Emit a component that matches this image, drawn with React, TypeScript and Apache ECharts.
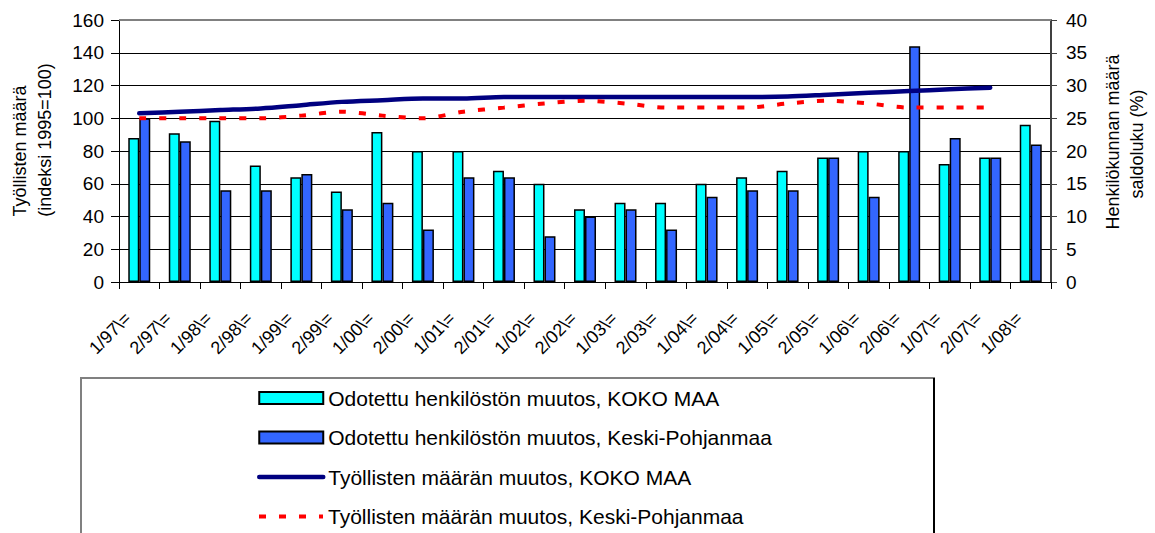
import React, { useEffect, useRef } from "react";
import * as echarts from "echarts";

const categories = [
  "1/97\\=", "2/97\\=", "1/98\\=", "2/98\\=", "1/99\\=", "2/99\\=", "1/00\\=", "2/00\\=",
  "1/01\\=", "2/01\\=", "1/02\\=", "2/02\\=", "1/03\\=", "2/03\\=", "1/04\\=", "2/04\\=",
  "1/05\\=", "2/05\\=", "1/06\\=", "2/06\\=", "1/07\\=", "2/07\\=", "1/08\\=",
];

// Saldoluku (%) – right axis
const henkilostoKokoMaa = [22, 22.7, 24.6, 17.8, 16, 13.8, 22.9, 20, 20, 17, 15, 11.1, 12.1, 12.1, 15, 16, 17, 19, 20, 20, 18, 19, 24];
const henkilostoKeskiPohjanmaa = [25, 21.5, 14, 14, 16.5, 11.1, 12.1, 8, 16, 16, 7, 10, 11.1, 8, 13, 14, 14, 19, 13, 36, 22, 19, 21];

// Index 1995=100 – left axis
const tyollisetKokoMaa = [103, 104, 105, 106, 108, 110, 111, 112, 112, 113, 113, 113, 113, 113, 113, 113, 113.3, 114.4, 115.5, 116.6, 117.7, 118.7, null];
const tyollisetKeskiPohjanmaa = [100, 100, 100, 100, 101.6, 104, 101.6, 100, 104, 106.5, 109, 110.7, 109, 106.5, 106.5, 106.5, 109, 110.7, 109, 106.5, 106.5, 106.5, null];

const leftTicks = [0, 160, 20];
const rightTicks = [0, 40, 5];

const seriesNames = [
  "Odotettu henkilöstön muutos, KOKO MAA",
  "Odotettu henkilöstön muutos, Keski-Pohjanmaa",
  "Työllisten määrän muutos, KOKO MAA",
  "Työllisten määrän muutos, Keski-Pohjanmaa",
];

const FONT = "Liberation Sans, Arial, sans-serif";

export default function App() {
  const ref = useRef<HTMLDivElement>(null);
  useEffect(() => {
    if (!ref.current) return;
    const chart = echarts.init(ref.current, null, { renderer: "svg" });
    const gridLeft = 119, gridRight = 1051, gridTop = 20, gridBottom = 282;
    const legendCommon = {
      orient: "vertical",
      left: 252,
      itemWidth: 64,
      itemHeight: 12,
      itemGap: 18.5,
      textStyle: { fontSize: 21, color: "#000", fontFamily: FONT },
    };
    chart.setOption({
      animation: false,
      backgroundColor: "#ffffff",
      textStyle: { fontFamily: FONT },
      grid: {
        left: gridLeft,
        right: 1155 - gridRight,
        top: gridTop,
        bottom: 533 - gridBottom,
        outerBoundsMode: "none",
        containLabel: false,
      },
      xAxis: {
        type: "category",
        data: categories,
        boundaryGap: true,
        axisLine: { lineStyle: { color: "#000", width: 1 } },
        axisTick: { show: true, length: 7, lineStyle: { color: "#000" } },
        axisLabel: {
          rotate: 45,
          interval: 0,
          margin: 22,
          padding: [0, 16, 0, 0],
          fontSize: 18,
          color: "#000",
          fontFamily: FONT,
        },
      },
      yAxis: [
        {
          type: "value",
          min: leftTicks[0],
          max: leftTicks[1],
          interval: leftTicks[2],
          axisLine: { show: true, lineStyle: { color: "#000", width: 1 } },
          axisTick: { show: true, length: 8, lineStyle: { color: "#000" } },
          axisLabel: { fontSize: 19, color: "#000", margin: 15, fontFamily: FONT },
          splitLine: { show: true, lineStyle: { color: "#000", width: 1 } },
        },
        {
          type: "value",
          min: rightTicks[0],
          max: rightTicks[1],
          interval: rightTicks[2],
          position: "right",
          axisLine: { show: true, lineStyle: { color: "#404040", width: 2 } },
          axisTick: { show: true, length: 6, lineStyle: { color: "#404040" } },
          axisLabel: { fontSize: 19, color: "#000", margin: 15, fontFamily: FONT },
          splitLine: { show: false },
        },
      ],
      legend: [
        {
          ...legendCommon,
          top: 382.5,
          data: [
            { name: seriesNames[0], icon: "rect" },
            { name: seriesNames[1], icon: "rect" },
            { name: seriesNames[2], itemStyle: { opacity: 0 }, lineStyle: { width: 4.5 } },
          ],
        },
        {
          ...legendCommon,
          top: 501,
          data: [
            { name: seriesNames[3], itemStyle: { opacity: 0 }, lineStyle: { width: 4 } },
          ],
        },
      ],
      series: [
        {
          name: seriesNames[0],
          type: "bar",
          yAxisIndex: 1,
          data: henkilostoKokoMaa,
          barWidth: 11,
          barGap: "0%",
          itemStyle: { color: "#00FFFF", borderColor: "#000", borderWidth: 1.5 },
        },
        {
          name: seriesNames[1],
          type: "bar",
          yAxisIndex: 1,
          data: henkilostoKeskiPohjanmaa,
          barWidth: 11,
          barGap: "0%",
          itemStyle: { color: "#3366FF", borderColor: "#000", borderWidth: 1.5 },
        },
        {
          name: seriesNames[2],
          type: "line",
          yAxisIndex: 0,
          data: tyollisetKokoMaa,
          symbol: "none",
          smooth: 0.3,
          itemStyle: { color: "#000080" },
          lineStyle: { color: "#000080", width: 4.5, cap: "round" },
          z: 5,
        },
        {
          name: seriesNames[3],
          type: "line",
          yAxisIndex: 0,
          data: tyollisetKeskiPohjanmaa,
          symbol: "none",
          smooth: 0.3,
          itemStyle: { color: "#FF0000" },
          lineStyle: { color: "#FF0000", width: 4, type: [7, 13] },
          z: 5,
        },
      ],
      graphic: [
        {
          type: "line",
          shape: { x1: gridLeft, y1: gridTop, x2: gridRight, y2: gridTop },
          style: { stroke: "#808080", lineWidth: 2 },
          z: 10,
        },
        {
          type: "text",
          x: 20,
          y: 151,
          rotation: Math.PI / 2,
          style: {
            text: "Työllisten määrä",
            fontSize: 18,
            fontFamily: FONT,
            fill: "#000",
            align: "center",
            verticalAlign: "middle",
          },
        },
        {
          type: "text",
          x: 45,
          y: 140,
          rotation: Math.PI / 2,
          style: {
            text: "(indeksi 1995=100)",
            fontSize: 18,
            fontFamily: FONT,
            fill: "#000",
            align: "center",
            verticalAlign: "middle",
          },
        },
        {
          type: "text",
          x: 1113,
          y: 142,
          rotation: Math.PI / 2,
          style: {
            text: "Henkilökunnan määrä",
            fontSize: 18,
            fontFamily: FONT,
            fill: "#000",
            align: "center",
            verticalAlign: "middle",
          },
        },
        {
          type: "text",
          x: 1137,
          y: 144,
          rotation: Math.PI / 2,
          style: {
            text: "saldoluku (%)",
            fontSize: 18,
            fontFamily: FONT,
            fill: "#000",
            align: "center",
            verticalAlign: "middle",
          },
        },
        {
          type: "rect",
          shape: { x: 81, y: 378, width: 853, height: 200 },
          style: { fill: "none", stroke: "#808080", lineWidth: 2 },
          z: -1,
        },
        {
          type: "line",
          shape: { x1: 934, y1: 378, x2: 934, y2: 540 },
          style: { stroke: "#000", lineWidth: 2 },
          z: -1,
        },
      ],
    });
    return () => chart.dispose();
  }, []);
  return (
    <div
      ref={ref}
      style={{ position: "fixed", left: 0, top: 0, width: 1155, height: 533 }}
    />
  );
}
